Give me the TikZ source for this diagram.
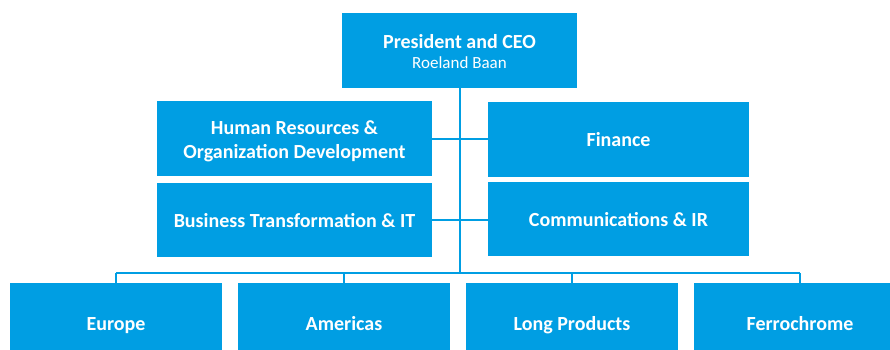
\documentclass[tikz,border=0pt]{standalone}
\usepackage{fontspec}
\setmainfont{Carlito}
\definecolor{orgblue}{RGB}{0,158,227}
\newcommand{\toprow}{\rule{0pt}{0.95em}}
\tikzset{
  unit/.style={fill=orgblue, text=white, font=\bfseries\fontsize{20}{24}\selectfont,
    align=center, inner sep=0pt, minimum height=75pt,
    execute at begin node={\rule[-0.2em]{0pt}{1.13em}}},
  link/.style={draw=orgblue, line width=2pt}
}
\begin{document}
\begin{tikzpicture}[x=1pt, y=-1pt]
    \clip (0,0) rectangle (890,349);
    \fill[white] (0,0) rectangle (890,349);
    \node (ceo) [unit, minimum width=235pt] at (459.5,50.5)
      {\toprow President and CEO\\[-4pt]{\mdseries\fontsize{17}{20}\selectfont Roeland Baan}};
    \node (hr) [unit, minimum width=275pt] at (294.5,138.5)
      {\toprow Human Resources \&\\Organization Development};
    \node (bt) [unit, minimum width=275pt, minimum height=74pt, below of=hr, node distance=81.5pt]
      {Business Transformation \& IT};
    \node (fin) [unit, minimum width=261pt] at (618.5,139.5) {Finance};
    \node (comm) [unit, minimum width=261pt, minimum height=74pt, below of=fin, node distance=79.5pt]
      {Communications \& IR};
    \node (eu) [unit, minimum width=212pt, minimum height=80pt] at (116,323) {Europe};
    \node (am) [unit, minimum width=212pt, minimum height=80pt, right of=eu, node distance=228pt] {Americas};
    \node (lp) [unit, minimum width=212pt, minimum height=80pt, right of=am, node distance=228pt] {Long Products};
    \node (fe) [unit, minimum width=212pt, minimum height=80pt, right of=lp, node distance=228pt] {Ferrochrome};
    \coordinate (bus) at (459.5,273);
    % trunk and staff links
    \draw[link] (ceo.south) -- (ceo.south |- bus);
    \draw[link] (hr.east) -- (hr.east -| fin.west);
    \draw[link] (bt.east) -- (bt.east -| comm.west);
    % regions and businesses
    \draw[link] (eu.north |- bus) -- (fe.north |- bus);
    \foreach \n in {eu, am, lp, fe}
      \draw[link] (\n.north |- bus) -- (\n.north);
  \end{tikzpicture}
\end{document}
